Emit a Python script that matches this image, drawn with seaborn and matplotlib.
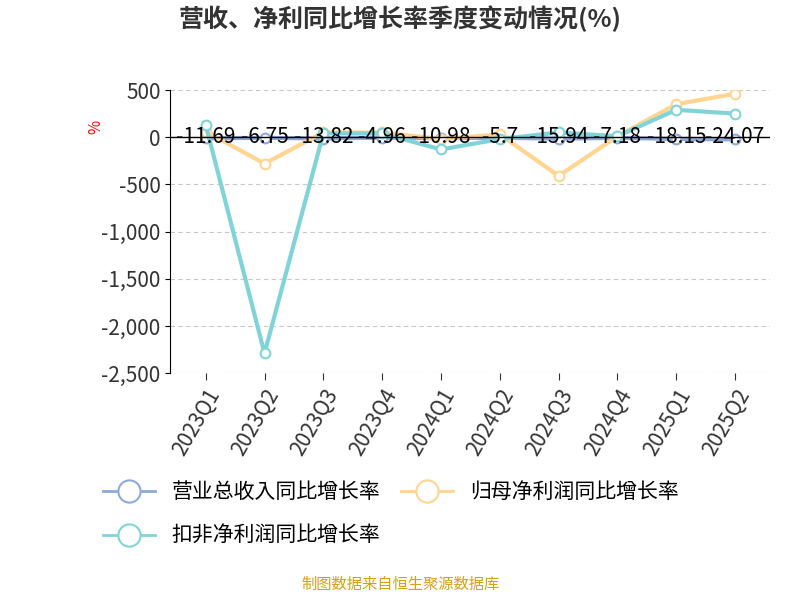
import matplotlib
matplotlib.use("Agg")
import matplotlib.pyplot as plt
from matplotlib import font_manager as fm
import seaborn as sns
import pandas as pd
from matplotlib.lines import Line2D

cjk = None
for f in fm.fontManager.ttflist:
    if "CJK SC" in f.name:
        cjk = f.name; break
if cjk is None:
    for f in fm.fontManager.ttflist:
        if "CJK" in f.name:
            cjk = f.name; break
plt.rcParams["font.family"] = [cjk or "DejaVu Sans", "DejaVu Sans"]
plt.rcParams["axes.unicode_minus"] = False

quarters = ["2023Q1","2023Q2","2023Q3","2023Q4","2024Q1","2024Q2","2024Q3","2024Q4","2025Q1","2025Q2"]
revenue = [-11.69,-6.75,-13.82,-4.96,-10.98,-5.7,-15.94,-7.18,-18.15,-24.07]
netprofit = [60,-280,50,50,-20,30,-410,10,350,460]
deducted = [130,-2290,40,40,-130,-20,50,10,290,250]
names = ["营业总收入同比增长率","归母净利润同比增长率","扣非净利润同比增长率"]
colors = ["#8eaadb","#ffd591","#80d4d8"]

fig = plt.figure(figsize=(8,6), dpi=100)
ax = fig.add_axes([0.213, 0.378, 0.75, 0.472])
x = list(range(len(quarters)))
for vals, c in zip([revenue, netprofit, deducted], colors):
    sns.lineplot(x=x, y=vals, ax=ax, color=c, lw=3, marker="o", markersize=7,
                 markerfacecolor="white", markeredgecolor=c, markeredgewidth=1.5,
                 sort=False, legend=False)
for i, v in enumerate(revenue):
    ax.text(i, 0, f"{v:g}", ha="center", va="center", fontsize=15, color="black", zorder=5)
ax.set_ylim(-2500, 500)
ax.set_xlim(-0.6, 9.6)
ax.set_xticks(x)
ax.set_xticklabels(quarters)
ax.set_yticks(range(-2500, 501, 500))
ax.set_yticklabels([f"{t:,}" for t in range(-2500, 501, 500)], fontsize=15, color="#333")
ax.tick_params(axis="x", labelrotation=60, labelsize=15, colors="#333", length=5)
for l in ax.get_xticklabels():
    l.set_ha("right"); l.set_rotation_mode("anchor")
ax.grid(axis="y", ls=(0,(4,3)), color="#c8c8c8")
ax.axhline(0, color="black", lw=1)
for s in ["top","right","bottom"]:
    ax.spines[s].set_visible(False)
ax.set_xlabel(""); ax.set_ylabel("%", color="red", fontsize=11)
ax.yaxis.set_label_coords(-0.11, 0.87)
fig.text(0.5, 0.955, "营收、净利同比增长率季度变动情况(%)", ha="center", fontsize=18, weight="bold", color="#333")
handles = [Line2D([],[],color=c,lw=2,marker="o",markersize=16,markerfacecolor="white",markeredgecolor=c,markeredgewidth=1.5) for c in colors]
fig.legend(handles[:2], names[:2], loc="center left", bbox_to_anchor=(0.105, 0.18), ncol=2, frameon=False, fontsize=15, handlelength=2.5, columnspacing=1.0)
fig.legend(handles[2:], names[2:], loc="center left", bbox_to_anchor=(0.105, 0.107), frameon=False, fontsize=15, handlelength=2.5)
fig.text(0.5, 0.018, "制图数据来自恒生聚源数据库", ha="center", fontsize=11, color="#d4a017")
fig.savefig("out.png")
